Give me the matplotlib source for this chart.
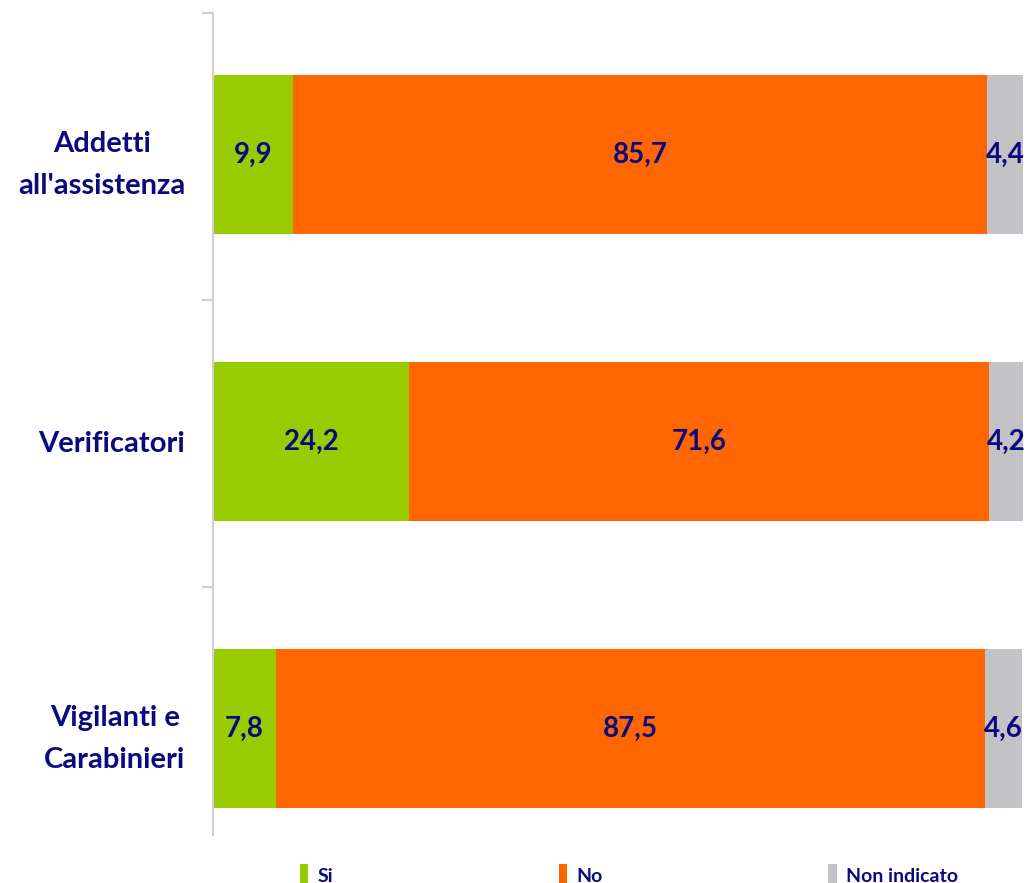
import matplotlib
matplotlib.use("Agg")
import matplotlib.pyplot as plt
from matplotlib.patches import Patch

categories = ["Addetti\nall'assistenza", "Verificatori", "Vigilanti e\nCarabinieri"]
series_names = ["Si", "No", "Non indicato"]
si = [9.9, 24.2, 7.8]
no = [85.7, 71.6, 87.5]
non_indicato = [4.4, 4.2, 4.6]
colors = ["#99CC00", "#FF6600", "#C3C2C6"]
navy = "#0A0A80"

family = "Lato"
plt.rcParams["font.family"] = [family, "DejaVu Sans"]

fig = plt.figure(figsize=(10.26, 8.83), dpi=100)
ax = fig.add_axes([0.2076, 0.0544, 0.7894, 0.9309])

ypos = list(range(len(categories)))
left = [0.0] * len(categories)
for vals, name, col in zip([si, no, non_indicato], series_names, colors):
    bars = ax.barh(ypos, vals, left=left, height=0.555, color=col, label=name)
    for b, v, l in zip(bars, vals, left):
        ax.text(l + v / 2, b.get_y() + b.get_height() / 2, f"{v:.1f}".replace(".", ","),
                ha="center", va="center", color=navy, fontsize=20, fontweight="bold")
    left = [a + b for a, b in zip(left, vals)]

ax.set_xlim(0, 100)
ax.set_ylim(2.371, -0.493)
ax.set_xticks([])
ax.set_yticks(ypos)
ax.set_yticklabels(categories, fontsize=21, fontweight="bold", color=navy,
                   ha="right", multialignment="center", linespacing=1.78)
ax.tick_params(axis="y", which="major", length=0, pad=20)
ax.set_yticks([-0.493, 0.507, 1.507], minor=True)
ax.tick_params(axis="y", which="minor", length=8, width=1.5, color="#D0D0D0", direction="out")
for s in ["top", "right", "bottom"]:
    ax.spines[s].set_visible(False)
ax.spines["left"].set_color("#D0D0D0")
ax.spines["left"].set_linewidth(1.5)

handles = [Patch(facecolor=c, edgecolor="none") for c in colors]
leg = fig.legend(handles, series_names, loc="center left", bbox_to_anchor=(0.275, 0.009),
                 ncol=3, frameon=False, handlelength=0.42, handleheight=1.3, handletextpad=0.5,
                 columnspacing=11.6, prop={"family": family, "weight": "bold", "size": 14})
for t in leg.get_texts():
    t.set_color(navy)

fig.savefig("out.png", dpi=100)
